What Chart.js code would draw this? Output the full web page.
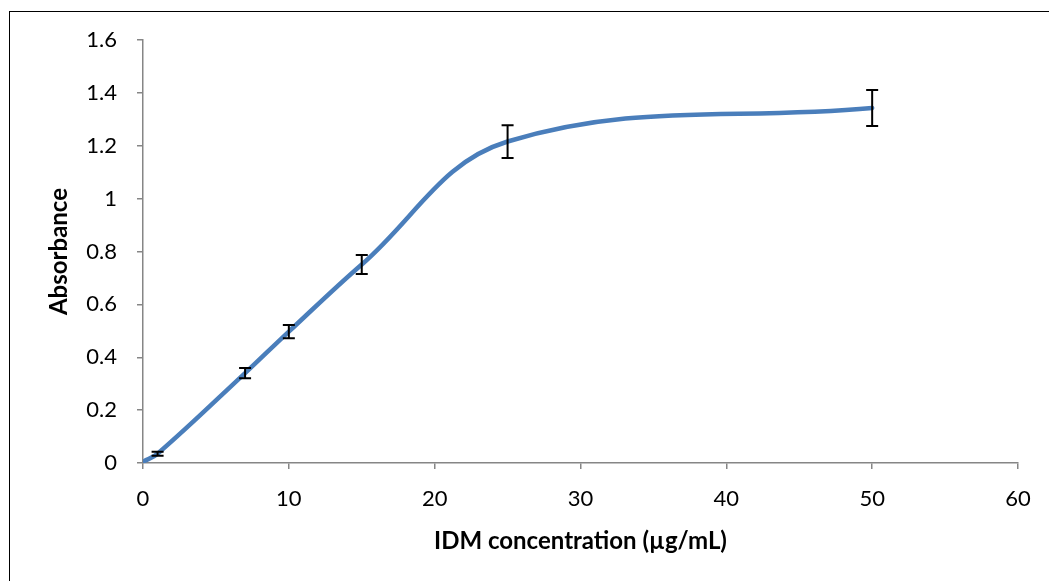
<!DOCTYPE html>
<html>
<head>
<meta charset="utf-8">
<script src="https://cdn.jsdelivr.net/npm/chart.js@4/dist/chart.umd.min.js"></script>
<style>
    body { margin: 0; background: #fff; overflow: hidden; }
    #frame { position: absolute; left: 9px; top: 11px; width: 1100px; height: 700px; border: 1.5px solid #000; }
    #wrap { position: absolute; left: 0; top: 0; width: 1049px; height: 581px; }
</style>
</head>
<body>
<div id="frame"></div>
<div id="wrap"><canvas id="chart" width="1049" height="581"></canvas></div>
<script>
// Data
const concentrations = [0, 1, 7, 10, 15, 25, 50];
const absorbance = [0.005, 0.035, 0.34, 0.497, 0.751, 1.216, 1.343];
const errors = [0, 0.008, 0.019, 0.025, 0.036, 0.062, 0.068];

const xTicks = [0, 10, 20, 30, 40, 50, 60];
const yTicks = [0, 0.2, 0.4, 0.6, 0.8, 1, 1.2, 1.4, 1.6];

const FONT = 'Lato, "Open Sans", sans-serif';
const AXIS_GREY = '#868686';

// Draw the error bars using the chart's own scales
const errorBars = {
    id: 'errorBars',
    afterDatasetsDraw(chart) {
        const ctx = chart.ctx;
        const xs = chart.scales.x;
        const ys = chart.scales.y;
        ctx.save();
        ctx.strokeStyle = '#000';
        ctx.lineWidth = 2;
        concentrations.forEach((c, i) => {
            if (!errors[i]) return;
            const px = xs.getPixelForValue(c);
            const top = ys.getPixelForValue(absorbance[i] + errors[i]);
            const bot = ys.getPixelForValue(absorbance[i] - errors[i]);
            ctx.beginPath();
            ctx.moveTo(px, top); ctx.lineTo(px, bot);
            ctx.moveTo(px - 6, top); ctx.lineTo(px + 6, top);
            ctx.moveTo(px - 6, bot); ctx.lineTo(px + 6, bot);
            ctx.stroke();
        });
        ctx.restore();
    }
};

const ctx = document.getElementById('chart').getContext('2d');
new Chart(ctx, {
    type: 'scatter',
    data: {
        datasets: [{
            data: concentrations.map((c, i) => ({ x: c, y: absorbance[i] })),
            showLine: true,
            borderColor: '#4a7ebb',
            borderWidth: 4.5,
            tension: 0.38,
            pointRadius: 0,
            borderCapStyle: 'round'
        }]
    },
    options: {
        responsive: false,
        animation: false,
        layout: { padding: { top: 40, right: 31, left: 0, bottom: 0 } },
        plugins: { legend: { display: false }, tooltip: { enabled: false } },
        scales: {
            x: {
                type: 'linear',
                min: 0, max: 60,
                afterBuildTicks: s => { s.ticks = xTicks.map(v => ({ value: v })); },
                afterFit: s => { s.height = 118; },
                border: { color: AXIS_GREY, width: 1.5 },
                grid: { drawOnChartArea: false, color: AXIS_GREY, tickLength: 6, lineWidth: 1.5 },
                ticks: { color: '#000', font: { family: FONT, size: 22 }, padding: 17, maxRotation: 0,
                         callback: v => String(v) },
                title: {
                    display: true,
                    text: 'IDM concentration (µg/mL)',
                    color: '#000',
                    font: { family: FONT, size: 24, weight: 'bold' },
                    padding: { top: 4, bottom: 25 }
                }
            },
            y: {
                min: 0, max: 1.6,
                afterBuildTicks: s => { s.ticks = yTicks.map(v => ({ value: v })); },
                afterFit: s => { s.width = 143; },
                border: { color: AXIS_GREY, width: 1.5 },
                grid: { drawOnChartArea: false, color: AXIS_GREY, tickLength: 6, lineWidth: 1.5 },
                ticks: { color: '#000', font: { family: FONT, size: 22 }, padding: 20,
                         callback: v => String(v) },
                title: {
                    display: true,
                    text: 'Absorbance',
                    color: '#000',
                    font: { family: FONT, size: 24, weight: 'bold' },
                    padding: { top: 45, bottom: 4 }
                }
            }
        }
    },
    plugins: [errorBars]
});
</script>
</body>
</html>
